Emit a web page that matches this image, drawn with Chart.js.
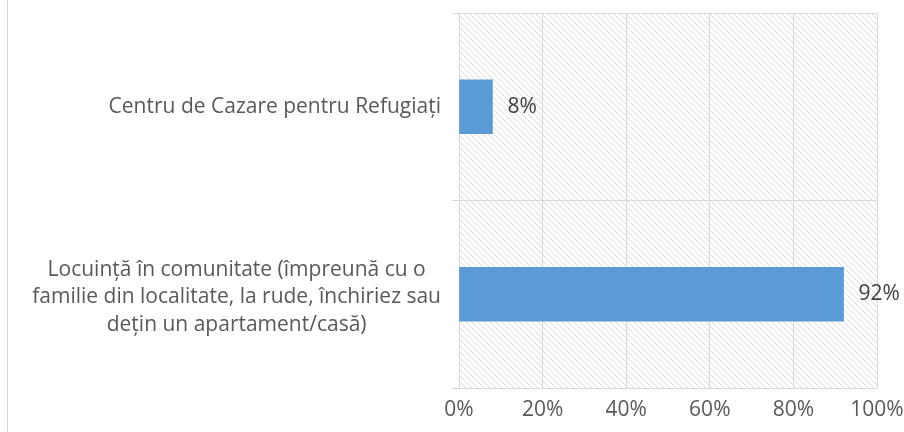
<!DOCTYPE html>
<html>
<head>
<meta charset="utf-8">
<script src="https://cdn.jsdelivr.net/npm/chart.js@4.4.1/dist/chart.umd.min.js"></script>
<style>
html,body{margin:0;padding:0;background:#fff;}
#wrap{width:904px;height:432px;position:relative;}
</style>
</head>
<body>
<div id="wrap"><canvas id="c" width="904" height="432"></canvas></div>
<script>
const categories = [
  ["Centru de Cazare pentru Refugiați"],
  ["Locuință în comunitate (împreună cu o", "familie din localitate, la rude, închiriez sau", "dețin un apartament/casă)"]
];
const values = [8, 92];
const xTicks = [0, 20, 40, 60, 80, 100];

const FONT = "'Open Sans', sans-serif";
const FSIZE = 21;
const GRID = '#d9d9d9';

function makePattern(ctx) {
  const p = document.createElement('canvas');
  p.width = 6; p.height = 6;
  const pc = p.getContext('2d');
  pc.fillStyle = '#fff';
  pc.fillRect(0, 0, 6, 6);
  pc.fillStyle = '#dcdcdc';
  for (let i = 0; i < 6; i++) pc.fillRect(i, i, 1, 1);
  return ctx.createPattern(p, 'repeat');
}

const bgPlugin = {
  id: 'bg',
  beforeDraw(chart) {
    const {ctx, chartArea: a} = chart;
    ctx.save();
    ctx.fillStyle = makePattern(ctx);
    ctx.fillRect(a.left, a.top, a.right - a.left, a.bottom - a.top);
    ctx.strokeStyle = GRID;
    ctx.lineWidth = 1;
    ctx.beginPath();
    ctx.moveTo(7.5, 0);
    ctx.lineTo(7.5, 432);
    ctx.stroke();
    ctx.restore();
  }
};

const labelPlugin = {
  id: 'labels',
  afterDraw(chart) {
    const {ctx, chartArea: a} = chart;
    const ys = chart.scales.y;
    ctx.save();
    ctx.font = FSIZE + 'px ' + FONT;
    ctx.fillStyle = '#595959';
    ctx.textBaseline = 'middle';
    ctx.textAlign = 'center';
    const lh = 27.5;
    categories.forEach((lines, i) => {
      const cy = ys.getPixelForTick(i) + (lines.length > 1 ? 3 : 0);
      let w = 0;
      lines.forEach(l => { w = Math.max(w, ctx.measureText(l).width); });
      const right = a.left - 18;
      const cx = right - w / 2;
      lines.forEach((l, j) => {
        ctx.fillText(l, cx, cy + (j - (lines.length - 1) / 2) * lh);
      });
    });
    // data labels
    const meta = chart.getDatasetMeta(0);
    ctx.textAlign = 'left';
    ctx.fillStyle = '#404040';
    meta.data.forEach((bar, i) => {
      ctx.fillText(values[i] + '%', bar.x + 15, bar.y);
    });
    ctx.restore();
  }
};

new Chart(document.getElementById('c'), {
  type: 'bar',
  data: {
    labels: categories.map(c => c.join(' ')),
    datasets: [{
      data: values,
      backgroundColor: '#5b9bd5',
      borderWidth: 0,
      barThickness: 54
    }]
  },
  options: {
    indexAxis: 'y',
    responsive: false,
    animation: false,
    devicePixelRatio: 1,
    layout: {padding: {left: 0, right: 27, top: 13, bottom: 0}},
    plugins: {legend: {display: false}, tooltip: {enabled: false}},
    scales: {
      x: {
        min: 0, max: 100,
        afterBuildTicks(s) { s.ticks = xTicks.map(v => ({value: v})); },
        afterFit(s) { s.height = 44; s.paddingLeft = 0; s.paddingRight = 0; },
        grid: {color: GRID, drawTicks: false, lineWidth: 1},
        border: {display: false},
        ticks: {
          padding: 9,
          color: '#595959',
          font: {family: FONT, size: FSIZE},
          callback: v => v + '%'
        }
      },
      y: {
        afterFit(s) { s.width = 459; },
        grid: {color: GRID, offset: true, tickLength: 7, drawTicks: true},
        border: {display: false},
        ticks: {display: false}
      }
    }
  },
  plugins: [bgPlugin, labelPlugin]
});
</script>
</body>
</html>
